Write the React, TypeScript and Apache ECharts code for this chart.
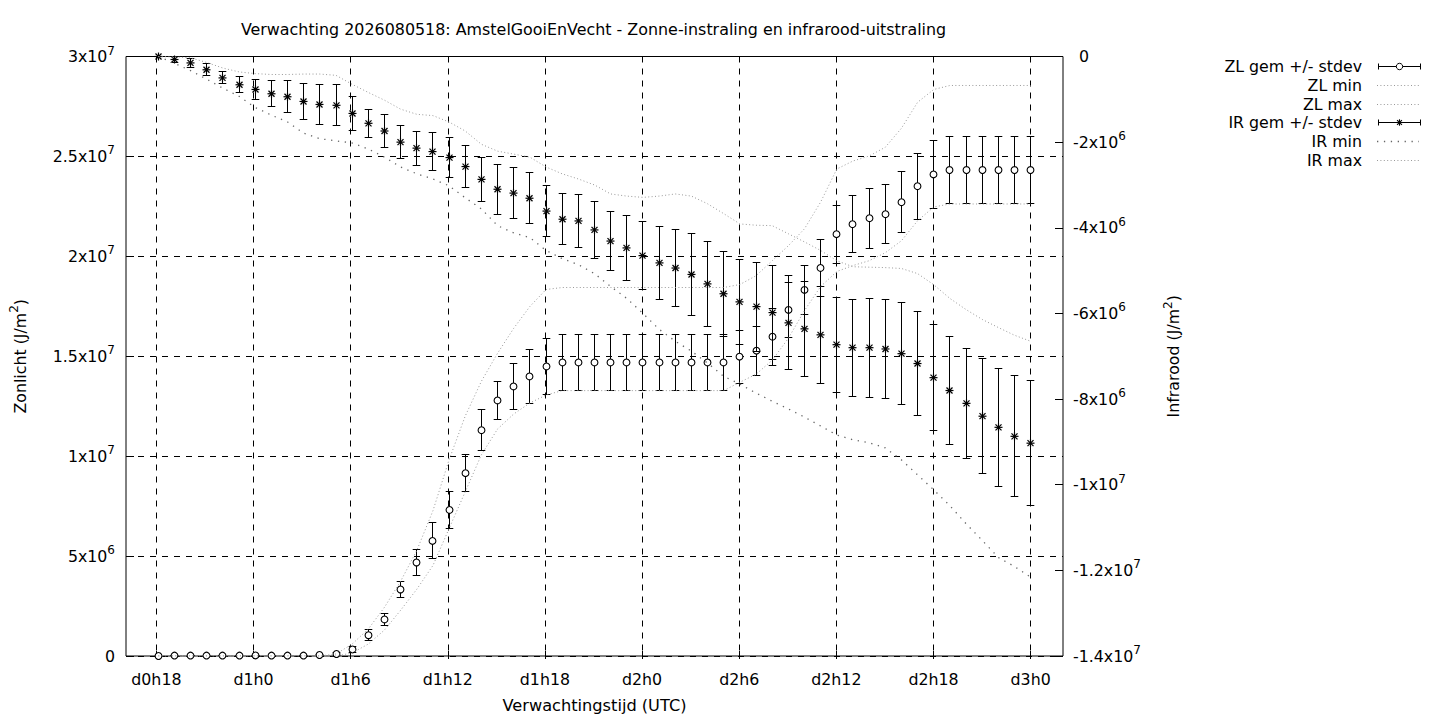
import React, { useEffect, useRef } from "react";
import * as echarts from "echarts";

// ---------- DATA ----------
// forecast hours since start of d0 (one point per hour)
const hours = [
  18, 19, 20, 21, 22, 23, 24, 25, 26, 27, 28, 29, 30, 31, 32, 33, 34, 35, 36, 37,
  38, 39, 40, 41, 42, 43, 44, 45, 46, 47, 48, 49, 50, 51, 52, 53, 54, 55, 56, 57,
  58, 59, 60, 61, 62, 63, 64, 65, 66, 67, 68, 69, 70, 71, 72,
];

const xTickHours = [18, 24, 30, 36, 42, 48, 54, 60, 66, 72];
const xTickLabels = ["d0h18", "d1h0", "d1h6", "d1h12", "d1h18", "d2h0", "d2h6", "d2h12", "d2h18", "d3h0"];

// values in units of 10^6 J/m2
const leftTickValues = [0, 5, 10, 15, 20, 25, 30];
const leftTickLabels = ["0", "5x10^6", "1x10^7", "1.5x10^7", "2x10^7", "2.5x10^7", "3x10^7"];
const rightTickValues = [0, -2, -4, -6, -8, -10, -12, -14];
const rightTickLabels = ["0", "-2x10^6", "-4x10^6", "-6x10^6", "-8x10^6", "-1x10^7", "-1.2x10^7", "-1.4x10^7"];

// Zonlicht (10^6 J/m2)
const zlMean = [
  0, 0.02, 0.02, 0.02, 0.02, 0.02, 0.03, 0.02, 0.02, 0.02, 0.05, 0.1,
  0.33, 1.04, 1.83, 3.33, 4.68, 5.76, 7.31, 9.15, 11.3, 12.79, 13.49, 13.99, 14.49,
  14.69, 14.69, 14.69, 14.69, 14.69, 14.69, 14.69, 14.69, 14.69, 14.69, 14.69,
  14.98, 15.28, 15.98, 17.32, 18.32, 19.42, 21.11, 21.61, 21.91, 22.11, 22.71, 23.51, 24.1,
  24.32, 24.32, 24.32, 24.32, 24.32, 24.32,
];
const zlStdev = [
  0, 0.01, 0.01, 0.01, 0.01, 0.01, 0.01, 0.01, 0.01, 0.01, 0.04, 0.08,
  0.15, 0.28, 0.32, 0.41, 0.64, 0.9, 0.92, 0.91, 1.04, 0.94, 1.14, 1.35, 1.41,
  1.39, 1.39, 1.39, 1.39, 1.39, 1.39, 1.39, 1.39, 1.39, 1.39, 1.39,
  1.33, 1.23, 1.42, 1.37, 1.21, 1.44, 1.45, 1.44, 1.5, 1.46, 1.54, 1.66, 1.69,
  1.69, 1.69, 1.69, 1.69, 1.69, 1.69,
];
const zlMin = [
  0, 0, 0, 0, 0, 0, 0, 0, 0, 0, 0, 0,
  0.15, 0.6, 1.3, 2.29, 3.34, 4.53, 6.38, 8.22, 10.07, 11.36, 12.11, 12.66, 13.06,
  13.28, 13.28, 13.28, 13.28, 13.28, 13.28, 13.28, 13.28, 13.28, 13.28, 13.28,
  13.7, 14.1, 14.8, 15.9, 17.29, 18.49, 19.24, 19.54, 19.78, 20.18, 20.78, 21.78, 22.47,
  22.62, 22.62, 22.62, 22.62, 22.62, 22.62,
];
const zlMax = [
  0, 0, 0, 0, 0, 0, 0, 0, 0, 0, 0,
  0.1, 0.6, 1.35, 2.44, 3.74, 5.28, 7.27, 9.82, 12.01, 13.75, 15.15, 16.4, 17.49, 18.34,
  18.44, 18.44, 18.44, 18.44, 18.44, 18.44, 18.44, 18.44, 18.44, 18.44, 18.44,
  18.59, 19.03, 19.78, 20.53, 21.38, 22.72, 24.37, 24.77, 25.02, 25.46, 26.41, 27.71, 28.35,
  28.55, 28.55, 28.55, 28.55, 28.55, 28.55,
];

// Infrarood (10^6 J/m2)
const irMean = [
  0, -0.07, -0.15, -0.31, -0.5, -0.66, -0.77, -0.87, -0.94, -1.05, -1.12, -1.14,
  -1.33, -1.56, -1.74, -2.0, -2.14, -2.22, -2.36, -2.57, -2.87, -3.1, -3.19, -3.31,
  -3.61, -3.8, -3.84, -4.05, -4.31, -4.47, -4.65, -4.82, -4.94, -5.09, -5.31, -5.54,
  -5.73, -5.84, -5.98, -6.22, -6.36, -6.5, -6.73, -6.8, -6.8, -6.83, -6.94, -7.17,
  -7.5, -7.8, -8.1, -8.4, -8.66, -8.87, -9.03,
];
const irStdev = [
  0, 0.06, 0.1, 0.14, 0.14, 0.19, 0.23, 0.3, 0.37, 0.43, 0.46, 0.48,
  0.4, 0.33, 0.38, 0.38, 0.4, 0.44, 0.47, 0.49, 0.52, 0.58, 0.59, 0.59,
  0.59, 0.6, 0.62, 0.66, 0.69, 0.75, 0.8, 0.85, 0.9, 0.95, 0.99, 0.99,
  1.0, 1.04, 1.09, 1.1, 1.11, 1.13, 1.11, 1.13, 1.16, 1.15, 1.19, 1.22,
  1.24, 1.26, 1.29, 1.34, 1.38, 1.41, 1.46,
];
const irMin = [
  0, -0.16, -0.33, -0.53, -0.74, -0.93, -1.19, -1.37, -1.53, -1.79, -1.92, -1.97,
  -2.02, -2.16, -2.35, -2.58, -2.74, -2.86, -3.02, -3.3, -3.56, -3.95, -4.12, -4.23,
  -4.53, -4.72, -4.86, -5.07, -5.37, -5.65, -6.0, -6.37, -6.65, -6.88, -7.16, -7.47,
  -7.65, -7.86, -8.05, -8.23, -8.42, -8.63, -8.84, -8.95, -9.02, -9.14, -9.42, -9.77,
  -10.12, -10.49, -10.91, -11.3, -11.7, -11.91, -12.16,
];
const irMax = [
  0, -0.01, -0.03, -0.14, -0.27, -0.36, -0.4, -0.42, -0.42, -0.41, -0.41, -0.44,
  -0.65, -0.84, -1.02, -1.23, -1.35, -1.38, -1.53, -1.74, -2.05, -2.21, -2.28, -2.35,
  -2.58, -2.74, -2.86, -3.0, -3.21, -3.26, -3.29, -3.26, -3.21, -3.26, -3.44, -3.67,
  -3.91, -3.94, -3.95, -4.14, -4.33, -4.53, -4.77, -4.91, -4.92, -4.93, -4.95, -5.07,
  -5.33, -5.65, -5.91, -6.14, -6.33, -6.51, -6.65,
];

const legendLabels = ["ZL gem +/- stdev", "ZL min", "ZL max", "IR gem +/- stdev", "IR min", "IR max"];
const titleText = "Verwachting 2026080518: AmstelGooiEnVecht - Zonne-instraling en infrarood-uitstraling";

// ---------- STYLE ----------
const FONT = "DejaVu Sans";
const FS = 15.8;
const FINE_DOT = { color: "#999999", width: 1, dash: [1, 2.4] };
const COARSE_DOT = { color: "#666666", width: 1.3, dash: [1.3, 5.6] };
const CAP = 3.8;
const GRID_LEFT = 124;
const GRID_TOP = 56.5;
const GRID_W = 939;
const GRID_H = 602.5;
const X_MIN = 16;
const X_MAX = 74;

const rich: any = {
  b: { fontSize: FS, fontFamily: FONT, color: "#000", lineHeight: 24 },
  s: { fontSize: 12, fontFamily: FONT, color: "#000", lineHeight: 11, verticalAlign: "top" },
  z: { fontSize: FS, fontFamily: FONT, color: "#000", lineHeight: 24, padding: [0, 0, 0, 6] },
};

function toRich(label: string | undefined, zeroStyle?: string) {
  if (label === undefined) return "";
  const i = label.indexOf("^");
  if (i < 0) return zeroStyle ? `{${zeroStyle}|${label}}` : `{b|${label}}`;
  return `{b|${label.slice(0, i)}}{s|${label.slice(i + 1)}}`;
}

function lookup(values: number[], labels: string[], v: number) {
  const idx = values.findIndex((t) => Math.abs(t - v) < 1e-6);
  return idx >= 0 ? labels[idx] : undefined;
}

const crisp = (v: number) => Math.round(v - 0.5) + 0.5;

function starChildren(cx: number, cy: number, A: number, D: number, ls: any) {
  return [
    { type: "line", shape: { x1: cx - A, y1: cy, x2: cx + A, y2: cy }, style: ls },
    { type: "line", shape: { x1: cx, y1: cy - A, x2: cx, y2: cy + A }, style: ls },
    { type: "line", shape: { x1: cx - D, y1: cy - D, x2: cx + D, y2: cy + D }, style: ls },
    { type: "line", shape: { x1: cx - D, y1: cy + D, x2: cx + D, y2: cy - D }, style: ls },
  ];
}

function errorBarItem(marker: "circle" | "star") {
  return (params: any, api: any) => {
    const x = api.value(0);
    const m = api.value(1);
    const s = api.value(2);
    const p = api.coord([x, m]);
    const top = api.coord([x, m + s]);
    const bot = api.coord([x, m - s]);
    const cx = crisp(p[0]);
    const ty = crisp(top[1]);
    const by = crisp(bot[1]);
    const ls = { stroke: "#000", lineWidth: 1 };
    const children: any[] = [
      { type: "line", shape: { x1: cx, y1: ty, x2: cx, y2: by }, style: ls },
      { type: "line", shape: { x1: cx - CAP, y1: ty, x2: cx + CAP, y2: ty }, style: ls },
      { type: "line", shape: { x1: cx - CAP, y1: by, x2: cx + CAP, y2: by }, style: ls },
    ];
    if (marker === "circle") {
      children.push({ type: "circle", shape: { cx, cy: p[1], r: 3.4 }, style: { fill: "#fff", stroke: "#000", lineWidth: 1.1 } });
    } else {
      children.push(...starChildren(cx, p[1], 4, 3, { stroke: "#000", lineWidth: 1.2 }));
    }
    return { type: "group", children };
  };
}

function buildLegend() {
  const rowY = [66.7, 85.4, 104.1, 122.8, 141.5, 160.2];
  const textX = 1362;
  const els: any[] = [];
  const ls = { stroke: "#000", lineWidth: 1 };
  legendLabels.forEach((label, i) => {
    const y = rowY[i];
    els.push({
      type: "text",
      x: textX,
      y,
      style: { text: label, fontSize: FS, fontFamily: FONT, fill: "#000", align: "right", verticalAlign: "middle" },
    });
    const cy = crisp(y);
    if (i === 0 || i === 3) {
      els.push(
        { type: "line", shape: { x1: 1378.5, y1: cy, x2: 1420.5, y2: cy }, style: ls },
        { type: "line", shape: { x1: 1378.5, y1: cy - 3, x2: 1378.5, y2: cy + 3 }, style: ls },
        { type: "line", shape: { x1: 1420.5, y1: cy - 3, x2: 1420.5, y2: cy + 3 }, style: ls }
      );
      if (i === 0) {
        els.push({ type: "circle", shape: { cx: 1399.5, cy, r: 3.2 }, style: { fill: "#fff", stroke: "#000", lineWidth: 1 } });
      } else {
        els.push(...starChildren(1399.5, cy, 3.2, 2.4, { stroke: "#000", lineWidth: 1.1 }));
      }
    } else {
      const st = i === 4 ? COARSE_DOT : FINE_DOT;
      els.push({
        type: "line",
        shape: { x1: 1377, y1: cy, x2: 1419, y2: cy },
        style: { stroke: st.color, lineWidth: st.width, lineDash: st.dash },
      });
    }
  });
  return els;
}

function lineSeries(name: string, values: number[], yAxisIndex: number, st: any) {
  return {
    type: "line",
    name,
    xAxisIndex: 0,
    yAxisIndex,
    data: hours.map((h, i) => [h, values[i]]),
    showSymbol: false,
    symbol: "none",
    silent: true,
    lineStyle: { color: st.color, width: st.width, type: st.dash, cap: "butt" },
  };
}

export default function App() {
  const ref = useRef<HTMLDivElement>(null);

  useEffect(() => {
    if (!ref.current) return;
    const chart = echarts.init(ref.current, undefined, { renderer: "svg" });
    const textBase = { fontSize: FS, fontFamily: FONT, color: "#000" };
    const hourW = GRID_W / (X_MAX - X_MIN);
    const option: any = {
      animation: false,
      backgroundColor: "#fff",
      title: {
        text: titleText,
        left: GRID_LEFT + GRID_W / 2,
        top: 20,
        textAlign: "center",
        padding: 0,
        textStyle: { ...textBase, fontSize: 15.9, fontWeight: "normal", lineHeight: 18 },
      },
      grid: [
        {
          left: GRID_LEFT,
          top: GRID_TOP,
          width: GRID_W,
          height: GRID_H,
          show: true,
          borderColor: "#000",
          borderWidth: 1,
          backgroundColor: "transparent",
        },
        {
          left: GRID_LEFT + (xTickHours[0] - X_MIN) * hourW,
          top: GRID_TOP,
          width: (xTickHours[xTickHours.length - 1] - xTickHours[0]) * hourW,
          height: GRID_H,
          show: false,
        },
      ],
      xAxis: [
        {
          type: "value",
          gridIndex: 0,
          min: X_MIN,
          max: X_MAX,
          axisLine: { show: false },
          axisTick: { show: false },
          axisLabel: { show: false },
          splitLine: { show: false },
          name: "Verwachtingstijd (UTC)",
          nameLocation: "middle",
          nameGap: 39,
          nameTextStyle: { ...textBase, fontSize: 16.2, lineHeight: 20 },
        },
        {
          type: "value",
          gridIndex: 1,
          min: xTickHours[0],
          max: xTickHours[xTickHours.length - 1],
          interval: 6,
          axisLine: { show: false },
          axisTick: { show: true, inside: true, length: 8, lineStyle: { color: "#000" } },
          axisLabel: {
            ...textBase,
            margin: 10,
            lineHeight: 20,
            formatter: (v: number) => lookup(xTickHours, xTickLabels, v) ?? "",
          },
          splitLine: { show: true, lineStyle: { color: "#000", width: 1, type: [6, 6] } },
        },
      ],
      yAxis: [
        {
          type: "value",
          gridIndex: 0,
          position: "left",
          min: 0,
          max: 30,
          interval: 5,
          axisLine: { show: false },
          axisTick: { show: true, inside: true, length: 8, lineStyle: { color: "#000" } },
          axisLabel: {
            ...textBase,
            margin: 11,
            rich,
            formatter: (v: number) => toRich(lookup(leftTickValues, leftTickLabels, v)),
          },
          splitLine: { show: true, lineStyle: { color: "#000", width: 1, type: [6, 6] } },
          name: "Zonlicht (J/m{s|2})",
          nameLocation: "middle",
          nameRotate: 90,
          nameGap: 94,
          nameTextStyle: { ...textBase, lineHeight: 24, rich },
        },
        {
          type: "value",
          gridIndex: 0,
          position: "right",
          min: -14,
          max: 0,
          interval: 2,
          axisLine: { show: false },
          axisTick: { show: true, inside: true, length: 8, lineStyle: { color: "#000" } },
          axisLabel: {
            ...textBase,
            margin: 10,
            rich,
            formatter: (v: number) => toRich(lookup(rightTickValues, rightTickLabels, v), "z"),
          },
          splitLine: { show: false },
          name: "Infrarood (J/m{s|2})",
          nameLocation: "middle",
          nameRotate: 90,
          nameGap: 98.5,
          nameTextStyle: { ...textBase, lineHeight: 24, rich },
        },
        { type: "value", gridIndex: 1, min: 0, max: 1, show: false },
      ],
      series: [
        {
          type: "custom",
          name: "ZL gem +/- stdev",
          xAxisIndex: 0,
          yAxisIndex: 0,
          clip: false,
          silent: true,
          encode: { x: 0, y: 1 },
          data: hours.map((h, i) => [h, zlMean[i], zlStdev[i]]),
          renderItem: errorBarItem("circle"),
        },
        lineSeries("ZL min", zlMin, 0, FINE_DOT),
        lineSeries("ZL max", zlMax, 0, FINE_DOT),
        {
          type: "custom",
          name: "IR gem +/- stdev",
          xAxisIndex: 0,
          yAxisIndex: 1,
          clip: false,
          silent: true,
          encode: { x: 0, y: 1 },
          data: hours.map((h, i) => [h, irMean[i], irStdev[i]]),
          renderItem: errorBarItem("star"),
        },
        lineSeries("IR min", irMin, 1, COARSE_DOT),
        lineSeries("IR max", irMax, 1, FINE_DOT),
      ],
      graphic: buildLegend(),
    };
    chart.setOption(option);
    return () => chart.dispose();
  }, []);

  return (
    <div
      ref={ref}
      style={{ position: "absolute", left: 0, top: 0, width: 1440, height: 720, background: "#fff" }}
    />
  );
}
